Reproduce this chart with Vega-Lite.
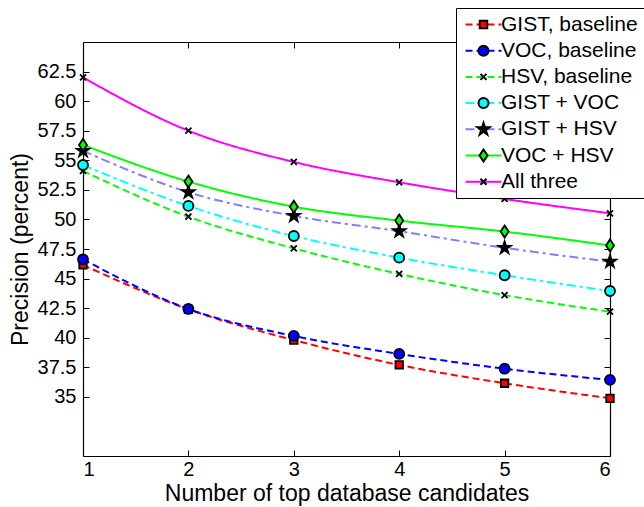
{
  "$schema": "https://vega.github.io/schema/vega-lite/v6.json",
  "width": 527,
  "height": 414,
  "autosize": {"type": "none"},
  "padding": {"left": 83, "top": 42, "right": 34, "bottom": 51},
  "background": "white",
  "config": {
    "view": {"stroke": null},
    "font": "Liberation Sans",
    "axis": {
      "domainColor": "black", "tickColor": "black", "labelColor": "black", "titleColor": "black",
      "labelFont": "Liberation Sans", "titleFont": "Liberation Sans",
      "labelFontSize": 20, "titleFontSize": 23, "titleFontWeight": "normal",
      "grid": false, "tickSize": -6, "domainWidth": 1.2, "tickWidth": 1
    }
  },
  "data": {
    "values": [
      {"x": 1, "y": 46.15, "s": "GIST, baseline"},
      {"x": 2, "y": 42.4, "s": "GIST, baseline"},
      {"x": 3, "y": 39.8, "s": "GIST, baseline"},
      {"x": 4, "y": 37.7, "s": "GIST, baseline"},
      {"x": 5, "y": 36.15, "s": "GIST, baseline"},
      {"x": 6, "y": 34.88, "s": "GIST, baseline"},
      {"x": 1, "y": 46.63, "s": "VOC, baseline"},
      {"x": 2, "y": 42.43, "s": "VOC, baseline"},
      {"x": 3, "y": 40.15, "s": "VOC, baseline"},
      {"x": 4, "y": 38.63, "s": "VOC, baseline"},
      {"x": 5, "y": 37.38, "s": "VOC, baseline"},
      {"x": 6, "y": 36.43, "s": "VOC, baseline"},
      {"x": 1, "y": 54.1, "s": "HSV, baseline"},
      {"x": 2, "y": 50.23, "s": "HSV, baseline"},
      {"x": 3, "y": 47.56, "s": "HSV, baseline"},
      {"x": 4, "y": 45.39, "s": "HSV, baseline"},
      {"x": 5, "y": 43.6, "s": "HSV, baseline"},
      {"x": 6, "y": 42.2, "s": "HSV, baseline"},
      {"x": 1, "y": 54.6, "s": "GIST + VOC"},
      {"x": 2, "y": 51.14, "s": "GIST + VOC"},
      {"x": 3, "y": 48.6, "s": "GIST + VOC"},
      {"x": 4, "y": 46.77, "s": "GIST + VOC"},
      {"x": 5, "y": 45.28, "s": "GIST + VOC"},
      {"x": 6, "y": 43.95, "s": "GIST + VOC"},
      {"x": 1, "y": 55.8, "s": "GIST + HSV"},
      {"x": 2, "y": 52.3, "s": "GIST + HSV"},
      {"x": 3, "y": 50.3, "s": "GIST + HSV"},
      {"x": 4, "y": 49.0, "s": "GIST + HSV"},
      {"x": 5, "y": 47.6, "s": "GIST + HSV"},
      {"x": 6, "y": 46.43, "s": "GIST + HSV"},
      {"x": 1, "y": 56.3, "s": "VOC + HSV"},
      {"x": 2, "y": 53.2, "s": "VOC + HSV"},
      {"x": 3, "y": 51.08, "s": "VOC + HSV"},
      {"x": 4, "y": 49.9, "s": "VOC + HSV"},
      {"x": 5, "y": 48.97, "s": "VOC + HSV"},
      {"x": 6, "y": 47.8, "s": "VOC + HSV"},
      {"x": 1, "y": 62.0, "s": "All three"},
      {"x": 2, "y": 57.5, "s": "All three"},
      {"x": 3, "y": 54.86, "s": "All three"},
      {"x": 4, "y": 53.14, "s": "All three"},
      {"x": 5, "y": 51.73, "s": "All three"},
      {"x": 6, "y": 50.52, "s": "All three"}
    ]
  },
  "layer": [
    {
      "mark": {"type": "line", "interpolate": "monotone", "strokeWidth": 2},
      "encoding": {
        "x": {"field": "x", "type": "quantitative",
          "scale": {"domain": [1, 6], "nice": false, "zero": false},
          "axis": {"orient": "bottom", "values": [1, 2, 3, 4, 5, 6], "format": "d",
            "title": "Number of top database candidates", "labelPadding": 9, "titlePadding": 3}},
        "y": {"field": "y", "type": "quantitative",
          "scale": {"domain": [30, 65], "nice": false, "zero": false},
          "axis": {"orient": "left", "values": [35, 37.5, 40, 42.5, 45, 47.5, 50, 52.5, 55, 57.5, 60, 62.5],
            "format": ".1~f", "title": "Precision (percent)", "labelPadding": 13, "titlePadding": 5}},
        "color": {"field": "s", "type": "nominal",
          "scale": {"domain": ["GIST, baseline", "VOC, baseline", "HSV, baseline", "GIST + VOC", "GIST + HSV", "VOC + HSV", "All three"],
            "range": ["#ff0000", "#0000ff", "#00ff00", "#00ffff", "#8080ff", "#00ff00", "#ff00ff"]},
          "legend": {"orient": "none", "legendX": 373, "legendY": -34, "title": null,
            "symbolType": "M-3.6,0H3.6", "symbolSize": 100, "symbolStrokeWidth": 2, "symbolOffset": 11,
            "symbolFillColor": "transparent",
            "labelFontSize": 21, "labelFont": "Liberation Sans", "labelColor": "black", "labelOffset": 7,
            "padding": 6, "rowPadding": 4.2, "strokeColor": "black", "fillColor": "white", "symbolOpacity": 1}},
        "strokeDash": {"field": "s", "type": "nominal",
          "scale": {"domain": ["GIST, baseline", "VOC, baseline", "HSV, baseline", "GIST + VOC", "GIST + HSV", "VOC + HSV", "All three"],
            "range": [[7, 4], [7, 4], [7, 4], [9, 4, 3, 4], [9, 4, 3, 4], [1, 0], [1, 0]]},
          "legend": {"orient": "none", "legendX": 373, "legendY": -34, "title": null}}
      }
    },
    {
      "mark": {"type": "point", "filled": true, "size": 100, "stroke": "black", "strokeWidth": 1.8, "opacity": 1},
      "encoding": {
        "x": {"field": "x", "type": "quantitative",
          "scale": {"domain": [1, 6], "nice": false, "zero": false},
          "axis": {"orient": "top", "values": [1, 2, 3, 4, 5, 6], "labels": false, "title": null}},
        "y": {"field": "y", "type": "quantitative",
          "scale": {"domain": [30, 65], "nice": false, "zero": false},
          "axis": {"orient": "right", "values": [35, 37.5, 40, 42.5, 45, 47.5, 50, 52.5, 55, 57.5, 60, 62.5], "labels": false, "title": null}},
        "fill": {"field": "s", "type": "nominal", "sort": null,
          "scale": {"range": ["#ff0000", "#0000ff", "#000000", "#00ffff", "#000000", "#00ff00", "#000000"]},
          "legend": {"orient": "none", "legendX": 373, "legendY": -34, "title": null,
            "symbolSize": 100, "symbolStrokeWidth": 2, "symbolOffset": 11, "symbolStrokeColor": "black", "symbolOpacity": 1,
            "labelFontSize": 21, "labelFont": "Liberation Sans", "labelExpr": "''", "labelOffset": 7,
            "padding": 6, "rowPadding": 4.2}},
        "shape": {"field": "s", "type": "nominal", "sort": null,
          "scale": {"range": [
              "M-0.75,-0.75H0.75V0.75H-0.75Z",
              "circle",
              "M-0.6,-0.6L0.6,0.6M0.6,-0.6L-0.6,0.6",
              "circle",
              "M0,-1.3L0.292,-0.402L1.236,-0.402L0.472,0.153L0.764,1.052L0,0.497L-0.764,1.052L-0.472,0.153L-1.236,-0.402L-0.292,-0.402Z",
              "M0,-1.2L0.8,0L0,1.2L-0.8,0Z",
              "M-0.6,-0.6L0.6,0.6M0.6,-0.6L-0.6,0.6"
            ]},
          "legend": {"orient": "none", "legendX": 373, "legendY": -34, "title": null}}
      }
    }
  ],
  "resolve": {"axis": {"x": "independent", "y": "independent"}}
}
